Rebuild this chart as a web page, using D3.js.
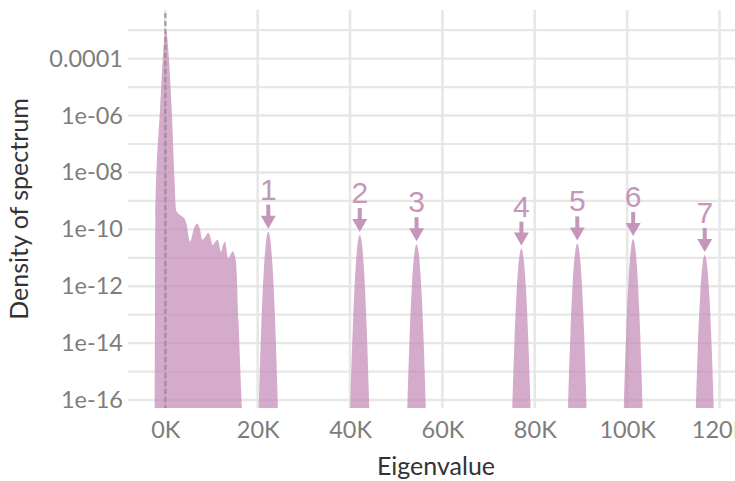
<!DOCTYPE html>
<html>
<head>
<meta charset="utf-8">
<script src="https://cdn.jsdelivr.net/npm/d3@7/dist/d3.min.js"></script>
<style>
  html, body { margin: 0; padding: 0; background: #fff; overflow: hidden; }
  svg { display: block; }
</style>
</head>
<body>
<svg id="chart" width="760" height="481"></svg>
<script>
// Eigenvalues in thousands; density of the spectrum (log scale)
const xTicks = [0, 20, 40, 60, 80, 100, 120];
const xTickLabels = ["0K", "20K", "40K", "60K", "80K", "100K", "120K"];
const yTicks = [1e-16, 1e-14, 1e-12, 1e-10, 1e-8, 1e-6, 1e-4];
const yTickLabels = ["1e-16", "1e-14", "1e-12", "1e-10", "1e-08", "1e-06", "0.0001"];
const yMinor = [1e-15, 1e-13, 1e-11, 1e-9, 1e-7, 1e-5, 1e-3];

// Bulk of the spectrum near zero
const bulkK = [-2.34, -2.15, -1.15, -0.56, 0.15, 0.80, 1.39, 1.99, 2.32, 2.75, 3.83, 4.48,
               5.35, 6.3, 6.93, 7.5, 8.01, 8.8, 9.31, 9.8, 10.26, 10.9, 11.34, 12.06, 12.5, 12.92,
               13.64, 14.2, 14.59, 15.30, 15.84, 16.49, 16.8, 17.0];
const bulkDensity = [1e-19, 2.5e-10, 1.6e-6, 8.9e-5, 1.0e-3, 8.9e-5, 1.6e-6, 5.4e-9, 4.8e-10, 3.7e-10, 2.7e-10, 1.8e-10,
                     3.7e-11, 1.2e-10, 1.6e-10, 1.0e-10, 4.3e-11, 6.0e-11, 7.6e-11, 5.0e-11, 2.8e-11, 3.8e-11, 4.3e-11, 1.6e-11, 2.8e-11, 3.7e-11,
                     9.5e-12, 1.4e-11, 1.7e-11, 7.1e-12, 6.5e-14, 1e-16, 9e-18, 1e-19];

// Isolated outlier eigenvalues
const peakLabels = ["1", "2", "3", "4", "5", "6", "7"];
const peakK = [
  [19.9, 20.3, 20.8, 21.3, 21.8, 22.3, 22.8, 23.3, 23.8, 24.3, 24.7],
  [39.7, 40.1, 40.6, 41.1, 41.6, 42.1, 42.6, 43.1, 43.6, 44.1, 44.5],
  [52.0, 52.4, 52.9, 53.4, 53.9, 54.4, 54.9, 55.4, 55.9, 56.4, 56.8],
  [74.7, 75.1, 75.6, 76.1, 76.6, 77.1, 77.6, 78.1, 78.6, 79.1, 79.5],
  [86.8, 87.2, 87.7, 88.2, 88.7, 89.2, 89.7, 90.2, 90.7, 91.2, 91.6],
  [98.9, 99.3, 99.8, 100.3, 100.8, 101.3, 101.8, 102.3, 102.8, 103.3, 103.7],
  [114.4, 114.8, 115.3, 115.8, 116.3, 116.8, 117.3, 117.8, 118.3, 118.8, 119.2]
];
const peakDensity = [
  [4e-19, 1.4e-16, 4.8e-14, 3.0e-12, 3.6e-11, 8.3e-11, 3.6e-11, 3.0e-12, 4.8e-14, 1.4e-16, 4e-19],
  [3e-19, 1.1e-16, 3.6e-14, 2.3e-12, 2.8e-11, 6.3e-11, 2.8e-11, 2.3e-12, 3.6e-14, 1.1e-16, 3e-19],
  [1.5e-19, 5.2e-17, 1.7e-14, 1.1e-12, 1.3e-11, 3.0e-11, 1.3e-11, 1.1e-12, 1.7e-14, 5.2e-17, 1.5e-19],
  [1.1e-19, 3.7e-17, 1.2e-14, 7.8e-13, 9.3e-12, 2.1e-11, 9.3e-12, 7.8e-13, 1.2e-14, 3.7e-17, 1.1e-19],
  [1.6e-19, 5.6e-17, 1.9e-14, 1.2e-12, 1.4e-11, 3.2e-11, 1.4e-11, 1.2e-12, 1.9e-14, 5.6e-17, 1.6e-19],
  [2.3e-19, 7.9e-17, 2.6e-14, 1.7e-12, 2.0e-11, 4.6e-11, 2.0e-11, 1.7e-12, 2.6e-14, 7.9e-17, 2.3e-19],
  [6.3e-20, 2.2e-17, 7.2e-15, 4.6e-13, 5.5e-12, 1.26e-11, 5.5e-12, 4.6e-13, 7.2e-15, 2.2e-17, 6.3e-20]
];
const peakCenterK = [22.3, 42.1, 54.4, 77.1, 89.2, 101.3, 116.8];
const peakTop = [8.3e-11, 6.3e-11, 3.0e-11, 2.1e-11, 3.2e-11, 4.6e-11, 1.26e-11];

const margin = { left: 128, top: 10, right: 744, bottom: 408 };
const fillColor = "#c38ab6";
const markColor = "#c497ba";
const gridColor = "#e7e7e7";

const svg = d3.select("#chart");

const x = d3.scaleLinear().domain([-8.08, 125.3]).range([margin.left, margin.right]);
const y = d3.scaleLog().domain([Math.pow(10, -16.28), Math.pow(10, -2.29)]).range([margin.bottom, margin.top]);

svg.append("defs").append("clipPath").attr("id", "panel")
  .append("rect")
  .attr("x", margin.left).attr("y", margin.top)
  .attr("width", margin.right - margin.left).attr("height", margin.bottom - margin.top);

// Grid
const grid = svg.append("g");
grid.selectAll("line.hminor").data(yMinor).join("line")
  .attr("x1", margin.left).attr("x2", margin.right)
  .attr("y1", d => y(d)).attr("y2", d => y(d))
  .attr("stroke", gridColor).attr("stroke-width", 2.2);
grid.selectAll("line.hmajor").data(yTicks).join("line")
  .attr("x1", margin.left).attr("x2", margin.right)
  .attr("y1", d => y(d)).attr("y2", d => y(d))
  .attr("stroke", gridColor).attr("stroke-width", 2.4);
grid.selectAll("line.v").data(xTicks).join("line")
  .attr("x1", d => x(d)).attr("x2", d => x(d))
  .attr("y1", margin.top).attr("y2", margin.bottom)
  .attr("stroke", gridColor).attr("stroke-width", 2.6);

// Density areas
const area = d3.area()
  .x(d => x(d[0]))
  .y0(margin.bottom)
  .y1(d => y(d[1]))
  .curve(d3.curveMonotoneX);

const plot = svg.append("g").attr("clip-path", "url(#panel)");
const series = [d3.zip(bulkK, bulkDensity)].concat(peakK.map((ks, i) => d3.zip(ks, peakDensity[i])));
plot.selectAll("path.density").data(series).join("path")
  .attr("class", "density")
  .attr("d", area)
  .attr("fill", fillColor)
  .attr("fill-opacity", 0.72);

// Reference line at zero
svg.append("line")
  .attr("x1", x(0)).attr("x2", x(0))
  .attr("y1", 13).attr("y2", margin.bottom)
  .attr("stroke", "#8e8e8e").attr("stroke-opacity", 0.8)
  .attr("stroke-width", 2.2).attr("stroke-dasharray", "5,3");

// Arrows and labels for outliers
const ann = svg.append("g");
peakCenterK.forEach((k, i) => {
  const cx = x(k);
  const tip = y(peakTop[i]) - 3;
  const headTop = tip - 13;
  const shaftTop = tip - 24;
  ann.append("rect")
    .attr("x", cx - 2).attr("y", shaftTop)
    .attr("width", 4).attr("height", headTop - shaftTop + 1)
    .attr("fill", markColor);
  ann.append("path")
    .attr("d", `M${cx - 7.5},${headTop} L${cx + 7.5},${headTop} L${cx},${tip} Z`)
    .attr("fill", markColor);
  ann.append("text")
    .attr("x", cx).attr("y", shaftTop - 5)
    .attr("text-anchor", "middle")
    .attr("font-family", "'Liberation Sans', Arial, sans-serif")
    .attr("font-size", 30)
    .attr("fill", markColor)
    .text(peakLabels[i]);
});

// Axis labels
const axisFont = "Lato, 'Open Sans', sans-serif";
const xAxis = d3.axisBottom(x).tickValues(xTicks).tickFormat((d, i) => xTickLabels[i]).tickSize(0).tickPadding(13);
const gx = svg.append("g").attr("transform", `translate(0,${margin.bottom})`).call(xAxis);
gx.select(".domain").remove();
gx.selectAll("text").attr("font-family", axisFont).attr("font-size", 23.5).attr("fill", "#7d7d7d");

const yAxis = d3.axisLeft(y).tickValues(yTicks).tickFormat((d, i) => yTickLabels[i]).tickSize(0).tickPadding(5);
const gy = svg.append("g").attr("transform", `translate(${margin.left},0)`).call(yAxis);
gy.select(".domain").remove();
gy.selectAll("text").attr("font-family", axisFont).attr("font-size", 23.5).attr("fill", "#7d7d7d");

svg.append("text")
  .attr("x", 436).attr("y", 475)
  .attr("text-anchor", "middle")
  .attr("font-family", axisFont).attr("font-size", 25).attr("fill", "#333")
  .text("Eigenvalue");

svg.append("text")
  .attr("transform", "translate(28,209) rotate(-90)")
  .attr("text-anchor", "middle")
  .attr("font-family", axisFont).attr("font-size", 25).attr("fill", "#333")
  .text("Density of spectrum");
</script>
</body>
</html>
